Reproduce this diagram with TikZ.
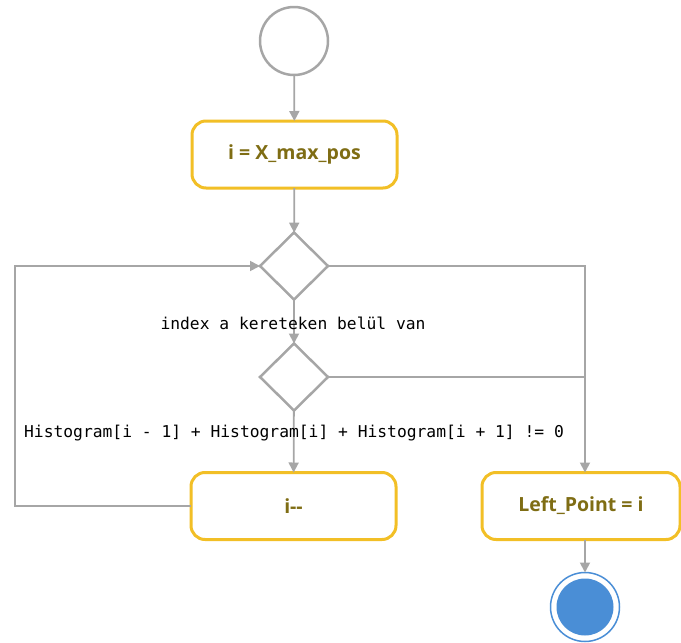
\documentclass[tikz,border=0pt]{standalone}
\usepackage{fontspec}
\setmainfont{Open Sans}
\newfontfamily\codefont{DejaVu Sans Mono}
\usetikzlibrary{arrows.meta,shapes.geometric}
\definecolor{linegray}{HTML}{A6A6A6}
\definecolor{boxgold}{HTML}{F2BF26}
\definecolor{textolive}{HTML}{7F6D14}
\definecolor{endblue}{HTML}{4A8ED6}
\begin{document}
\begin{tikzpicture}[x=1pt,y=-1pt,
  actbox/.style={draw=boxgold, line width=3pt, rounded corners=14pt, fill=white,
    minimum width=205pt, minimum height=67pt, inner sep=0pt, outer sep=0pt,
    font=\fontsize{19.5}{19.5}\selectfont\bfseries, text=textolive},
  decision/.style={diamond, draw=linegray, line width=2.5pt, fill=white,
    minimum width=68pt, minimum height=67pt, inner sep=0pt, outer sep=0pt},
  conn/.style={draw=linegray, line width=1.8pt},
  flow/.style={conn, -{Triangle[length=10pt,width=10pt]}},
  guard/.style={font=\codefont\fontsize{16.3}{16.3}\selectfont, text=black}]
\useasboundingbox (0,0) rectangle (681,643);
\node[circle, draw=linegray, line width=2.5pt, fill=white, minimum size=68pt, inner sep=0pt, outer sep=0pt] (start) at (294,41) {};
\node[actbox] (init) at (294.5,154.5) {i = X\_max\_pos};
\node[decision] (d1) at (294,266) {};
\node[decision] (d2) at (294,377) {};
\node[actbox] (dec) at (293.5,506) {i-{}-};
\node[actbox, minimum width=198pt] (left) at (581,506) {Left\_Point = i};
\node[circle, draw=endblue, line width=1.5pt, fill=white, minimum size=69pt, inner sep=0pt, outer sep=0pt] (endo) at (585,607) {};
\node[circle, fill=endblue, minimum size=57pt, inner sep=0pt] (endi) at (endo.center) {};
\coordinate (lx) at (15,505);
\coordinate (rx) at (585,0);
\draw[flow] (start) -- (init);
\draw[flow] (init) -- (d1);
\draw[flow] (d1) -- (d2);
\draw[flow] (d2) -- (dec);
\draw[flow] (dec.west) -- (dec.west -| lx) |- (d1.west);
\draw[flow] (d1.east) -| (rx |- left.north);
\draw[conn] (d2.east) -- (d2.east -| rx);
\draw[flow] (rx |- left.south) -- (endo.north);
\node[guard] (g1) at (293,323) {index a kereteken belül van};
\node[guard] (g2) at (294,433) {Histogram[i - 1] + Histogram[i] + Histogram[i + 1] != 0};
\end{tikzpicture}
\end{document}
